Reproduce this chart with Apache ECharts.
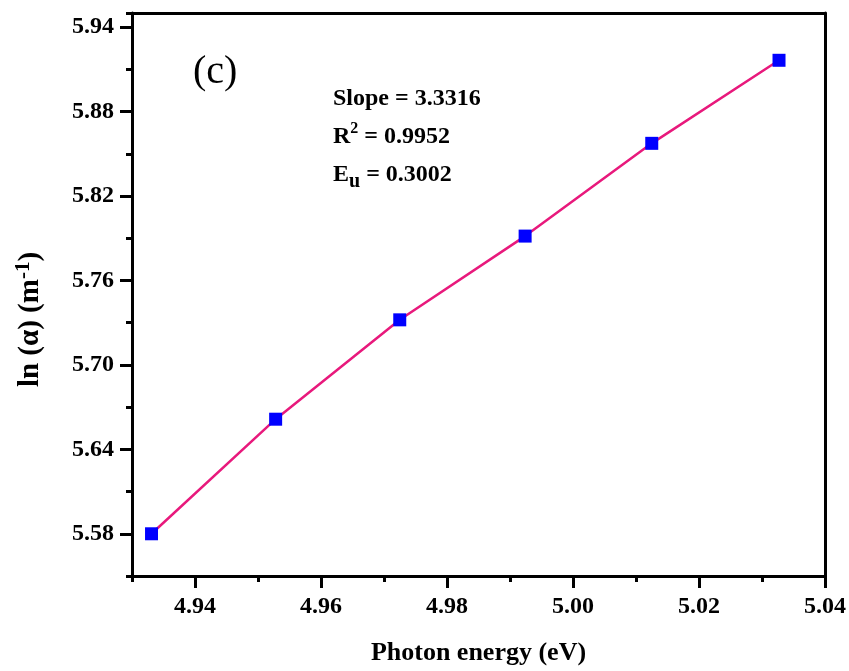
<!DOCTYPE html>
<html>
<head>
<meta charset="utf-8">
<script src="https://cdn.jsdelivr.net/npm/echarts@6/dist/echarts.min.js"></script>
<style>
  html, body { margin: 0; padding: 0; background: #fff; }
  #chart { width: 849px; height: 671px; }
</style>
</head>
<body>
<div id="chart"></div>
<script>
const energy = [4.9331, 4.9528, 4.9725, 4.9924, 5.0125, 5.0327];
const lnAlpha = [5.580, 5.6614, 5.732, 5.7915, 5.8574, 5.9164];
const xTicks = [4.94, 4.96, 4.98, 5.00, 5.02, 5.04];
const yTicks = [5.58, 5.64, 5.70, 5.76, 5.82, 5.88, 5.94];

const font = "'Liberation Serif', 'Times New Roman', serif";
const myChart = echarts.init(document.getElementById("chart"));

const axisBase = {
  type: "value",
  splitLine: { show: false },
  axisLine: { show: true, onZero: false, lineStyle: { color: "#000", width: 3 } },
};

const option = {
  animation: false,
  backgroundColor: "#fff",
  grid: { left: 132, right: 21, top: 13, bottom: 93, containLabel: false },
  xAxis: [
    {
      ...axisBase,
      min: 4.93, max: 5.04, interval: 0.01,
      axisTick: { show: true, length: 6, lineStyle: { color: "#000", width: 3 } },
      axisLabel: {
        customValues: xTicks,
        formatter: v => v.toFixed(2),
        color: "#000", fontFamily: font, fontWeight: "bold", fontSize: 24, margin: 19,
      },
      name: "Photon energy (eV)",
      nameLocation: "middle",
      nameGap: 64,
      nameTextStyle: { color: "#000", fontFamily: font, fontWeight: "bold", fontSize: 26 },
    },
    {
      ...axisBase,
      position: "bottom",
      min: 4.93, max: 5.04,
      axisLine: { show: false },
      axisTick: { show: true, length: 12, customValues: xTicks, lineStyle: { color: "#000", width: 3 } },
      axisLabel: { show: false },
    },
    {
      ...axisBase,
      position: "top",
      min: 4.93, max: 5.04,
      axisTick: { show: false },
      axisLabel: { show: false },
    },
  ],
  yAxis: [
    {
      ...axisBase,
      min: 5.55, max: 5.95, interval: 0.03,
      axisTick: { show: true, length: 6, lineStyle: { color: "#000", width: 3 } },
      axisLabel: {
        customValues: yTicks,
        formatter: v => v.toFixed(2),
        color: "#000", fontFamily: font, fontWeight: "bold", fontSize: 24, margin: 18,
      },
      name: "{n|ln (α) (m}{s|-1}{n|)}",
      nameLocation: "middle",
      nameGap: 84,
      nameTextStyle: {
        color: "#000", fontFamily: font, fontWeight: "bold", fontSize: 29,
        padding: [0, 50, 0, 0],
        rich: {
          n: { fontFamily: font, fontWeight: "bold", fontSize: 29, color: "#000" },
          s: { fontFamily: font, fontWeight: "bold", fontSize: 21, color: "#000", verticalAlign: "top", padding: [0, 0, 14, 0] },
        },
      },
    },
    {
      ...axisBase,
      position: "left",
      min: 5.55, max: 5.95,
      axisLine: { show: false },
      axisTick: { show: true, length: 12, customValues: yTicks, lineStyle: { color: "#000", width: 3 } },
      axisLabel: { show: false },
    },
    {
      ...axisBase,
      position: "right",
      min: 5.55, max: 5.95,
      axisTick: { show: false },
      axisLabel: { show: false },
    },
  ],
  graphic: [
    {
      type: "text", left: 193, top: 52,
      style: { text: "(c)", font: "normal 40px " + font, fill: "#000" },
    },
    {
      type: "text", left: 333, top: 80,
      style: {
        text: "Slope = 3.3316\n{b|R}{sup|2}{b| = 0.9952}\n{b|E}{sub|u}{b| = 0.3002}",
        font: "bold 24px " + font, fill: "#000", lineHeight: 38,
        rich: {
          b: { font: "bold 24px " + font, fill: "#000", lineHeight: 38 },
          sup: { font: "bold 16px " + font, fill: "#000", lineHeight: 38, padding: [0, 0, 16, 0] },
          sub: { font: "bold 20px " + font, fill: "#000", lineHeight: 38, padding: [14, 0, 0, 0] },
        },
      },
    },
  ],
  series: [
    {
      type: "line",
      data: energy.map((x, i) => [x, lnAlpha[i]]),
      symbol: "rect",
      symbolSize: 13,
      itemStyle: { color: "#0000FF" },
      lineStyle: { color: "#E8197C", width: 2.5 },
      z: 3,
    },
  ],
};

myChart.setOption(option);
</script>
</body>
</html>
